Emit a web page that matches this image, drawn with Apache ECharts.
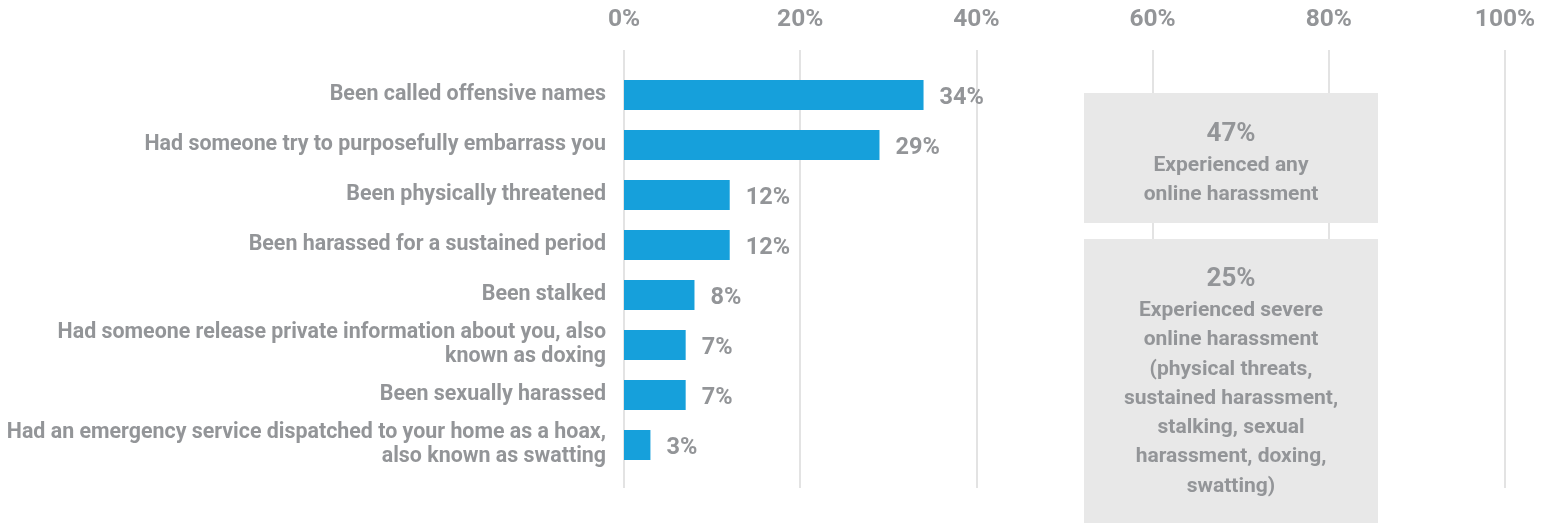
<!DOCTYPE html>
<html>
<head>
<meta charset="utf-8">
<script src="https://cdn.jsdelivr.net/npm/echarts@6/dist/echarts.min.js"></script>
<style>
html,body{margin:0;padding:0;background:#fff;}
#chart{width:1552px;height:523px;}
</style>
</head>
<body>
<div id="chart"></div>
<script>
var categories = [
  "Been called offensive names",
  "Had someone try to purposefully embarrass you",
  "Been physically threatened",
  "Been harassed for a sustained period",
  "Been stalked",
  "Had someone release private information about you, also\nknown as doxing",
  "Been sexually harassed",
  "Had an emergency service dispatched to your home as a hoax,\nalso known as swatting"
];
var values = [34, 29, 12, 12, 8, 7, 7, 3];
var tickValues = [0, 20, 40, 60, 80, 100];
var box1Lines = ["47%", "Experienced any", "online harassment"];
var box2Lines = ["25%", "Experienced severe", "online harassment", "(physical threats,", "sustained harassment,", "stalking, sexual", "harassment, doxing,", "swatting)"];

var GREY = '#939598';
var FONT = 'Roboto';

var chart = echarts.init(document.getElementById('chart'));

function boxText(lines) {
  return '{big|' + lines[0] + '}\n' + lines.slice(1).map(function (l) { return '{small|' + l + '}'; }).join('\n');
}
var boxRich = {
  big: { fontFamily: FONT, fontWeight: 'bold', fontSize: 26, lineHeight: 33, fill: GREY, align: 'center' },
  small: { fontFamily: FONT, fontWeight: 'bold', fontSize: 21, lineHeight: 29.3, fill: GREY, align: 'center' }
};

chart.setOption({
  animation: false,
  grid: [
    { left: 624, right: 47, top: 70, bottom: 53 },
    { left: 624, right: 47, top: 50, bottom: 35 }
  ],
  xAxis: [
    { type: 'value', gridIndex: 0, min: 0, max: 100, interval: 20, show: false },
    {
      type: 'value', gridIndex: 1, min: 0, max: 100, interval: 20, position: 'top',
      axisLine: { show: false }, axisTick: { show: false },
      splitLine: { show: true, lineStyle: { color: '#e3e3e3', width: 2 } },
      axisLabel: {
        margin: 18, color: GREY, fontFamily: FONT, fontWeight: 'bold', fontSize: 24.5,
        formatter: function (v) { return tickValues.indexOf(v) >= 0 ? v + '%' : ''; }
      }
    }
  ],
  yAxis: [
    {
      type: 'category', gridIndex: 0, data: categories, inverse: true,
      axisLine: { show: false }, axisTick: { show: false },
      axisLabel: {
        margin: 18, color: GREY, fontFamily: FONT, fontWeight: 'bold', fontSize: 21.4,
        lineHeight: 24, align: 'right', padding: [0, 0, 5, 0]
      }
    },
    { type: 'category', gridIndex: 1, show: false, data: [''] }
  ],
  series: [
    {
      type: 'bar', xAxisIndex: 0, yAxisIndex: 0, data: values, barWidth: 30,
      itemStyle: { color: '#16A0DB' },
      z: 3,
      label: {
        show: true, position: 'right', distance: 16, offset: [0, 3],
        color: GREY, fontFamily: FONT, fontWeight: 'bold', fontSize: 23.5,
        formatter: '{c}%'
      }
    }
  ],
  graphic: [
    { type: 'rect', z: 100, zlevel: 1, shape: { x: 1084, y: 93, width: 294, height: 130 }, style: { fill: '#e8e8e8' } },
    {
      type: 'text', z: 101, zlevel: 1, x: 1231, y: 118,
      style: { text: boxText(box1Lines), align: 'center', verticalAlign: 'top', rich: boxRich }
    },
    { type: 'rect', z: 100, zlevel: 1, shape: { x: 1084, y: 239, width: 294, height: 284 }, style: { fill: '#e8e8e8' } },
    {
      type: 'text', z: 101, zlevel: 1, x: 1231, y: 263,
      style: { text: boxText(box2Lines), align: 'center', verticalAlign: 'top', rich: boxRich }
    }
  ]
});
</script>
</body>
</html>
